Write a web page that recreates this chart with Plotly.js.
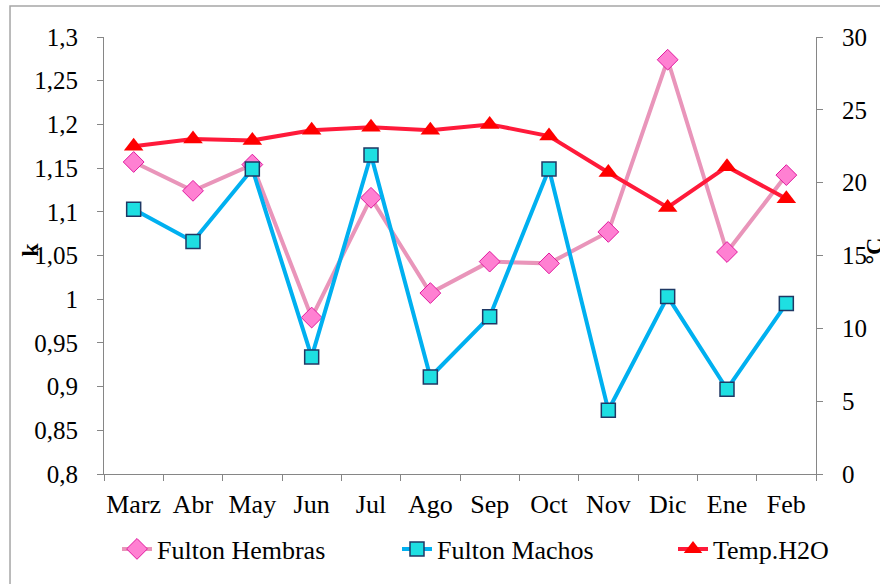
<!DOCTYPE html>
<html>
<head>
<meta charset="utf-8">
<script src="https://cdn.plot.ly/plotly-3.0.1.min.js"></script>
<style>
html,body{margin:0;padding:0;background:#fff;overflow:hidden;}
#chart{width:880px;height:584px;}
</style>
</head>
<body>
<div id="chart"></div>
<script>
const months = ["Marz","Abr","May","Jun","Jul","Ago","Sep","Oct","Nov","Dic","Ene","Feb"];
const fultonHembras = [1.157,1.124,1.154,0.979,1.116,1.007,1.043,1.041,1.077,1.274,1.054,1.142];
const fultonMachos  = [1.103,1.066,1.149,0.934,1.165,0.911,0.980,1.149,0.873,1.003,0.897,0.995];
const tempH2O       = [22.5,23.0,22.9,23.6,23.8,23.6,24.0,23.2,20.7,18.3,21.1,18.9];
const leftTicks  = [0.8,0.85,0.9,0.95,1,1.05,1.1,1.15,1.2,1.25,1.3];
const leftLabels = ["0,8","0,85","0,9","0,95","1","1,05","1,1","1,15","1,2","1,25","1,3"];
const rightTicks = [0,5,10,15,20,25,30];

const FONT = "Liberation Serif";
const AXC = "#868686";

const traces = [
  {x: months, y: fultonHembras, name: "Fulton Hembras", type: "scatter", mode: "lines+markers", legend: "legend",
   line: {color: "#E995BA", width: 4},
   marker: {symbol: "diamond", size: 16, color: "#FF80D2", line: {color: "#E0189E", width: 1}}},
  {x: months, y: fultonMachos, name: "Fulton Machos", type: "scatter", mode: "lines+markers", legend: "legend2",
   line: {color: "#00B0F0", width: 4},
   marker: {symbol: "square", size: 14, color: "#1EDFE2", line: {color: "#1F3864", width: 1.5}}},
  {x: months, y: tempH2O, name: "Temp.H2O", type: "scatter", mode: "lines+markers", yaxis: "y2", legend: "legend3",
   line: {color: "#FF1A3A", width: 4},
   marker: {symbol: "triangle-up", size: 17, color: "#FF0000", line: {width: 0}}}
];

function leg(xpx) {
  return {orientation: "h", xref: "container", yref: "container", x: xpx / 880, xanchor: "left",
          y: 1 - 549 / 584, yanchor: "middle", font: {family: FONT, size: 26, color: "#000"},
          bgcolor: "rgba(0,0,0,0)", borderwidth: 0};
}

const layout = {
  width: 880, height: 584,
  margin: {l: 104, r: 64, t: 37, b: 110},
  paper_bgcolor: "#fff", plot_bgcolor: "#fff",
  font: {family: FONT, size: 25, color: "#000"},
  showlegend: true,
  legend: leg(117), legend2: leg(397), legend3: leg(673),
  xaxis: {type: "category", range: [-0.5, 11.5], showgrid: false, zeroline: false, showline: true, linecolor: AXC, linewidth: 1,
          ticks: "outside", tickson: "boundaries", ticklen: 6, tickcolor: AXC, tickwidth: 1, tickangle: 0,
          tickfont: {family: FONT, size: 26, color: "#000"}, ticklabelstandoff: 7, automargin: false},
  yaxis: {range: [0.8, 1.3], tickvals: leftTicks, ticktext: leftLabels, showgrid: false, zeroline: false,
          showline: true, linecolor: AXC, linewidth: 1, ticks: "outside", ticklen: 6, tickcolor: AXC,
          tickfont: {family: FONT, size: 25, color: "#000"}, ticklabelstandoff: 14, automargin: false},
  yaxis2: {range: [0, 30], tickvals: rightTicks, overlaying: "y", side: "right", showgrid: false, zeroline: false,
           showline: true, linecolor: AXC, linewidth: 1, ticks: "outside", ticklen: 6, tickcolor: AXC,
           tickfont: {family: FONT, size: 25, color: "#000"}, ticklabelstandoff: 14, automargin: false},
  annotations: [
    {text: "<b>k</b>", xref: "paper", yref: "paper", x: -0.104, y: 0.513, textangle: -90,
     showarrow: false, font: {family: FONT, size: 24, color: "#000"}, xanchor: "center", yanchor: "middle"},
    {text: "<b>°C</b>", xref: "paper", yref: "paper", x: 1.082, y: 0.51, textangle: -90,
     showarrow: false, font: {family: FONT, size: 24, color: "#000"}, xanchor: "center", yanchor: "middle"}
  ],
  shapes: [
    {type: "rect", xref: "paper", yref: "paper", x0: -0.132, x1: 2, y0: -2, y1: 1.0709,
     line: {color: "#A6A6A6", width: 1.5}, fillcolor: "rgba(0,0,0,0)", layer: "below"}
  ]
};

Plotly.newPlot("chart", traces, layout, {displayModeBar: false, staticPlot: true});
</script>
</body>
</html>
